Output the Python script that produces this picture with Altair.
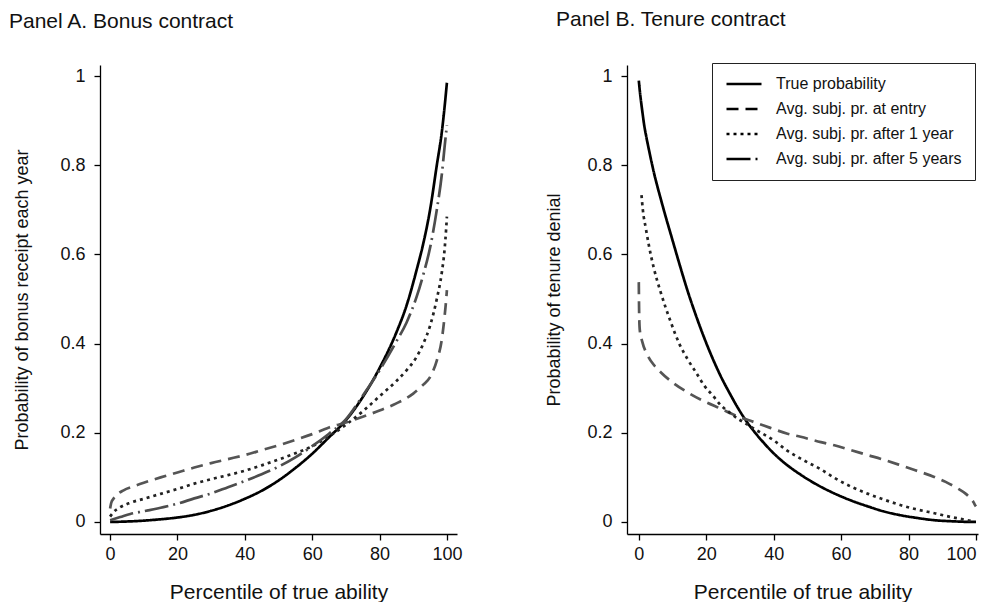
import altair as alt
import pandas as pd

FONT = "Liberation Sans"

SERIES = [
    "True probability",
    "Avg. subj. pr. at entry",
    "Avg. subj. pr. after 1 year",
    "Avg. subj. pr. after 5 years",
]
DASHES = [[1, 0], [12, 7], [3, 4], [24, 5, 2, 5]]
COLORS = ["#000000", "#555555", "#222222", "#4d4d4d"]

# ---- Panel A: bonus contract ----
a_true_x = [0, 5, 10, 15, 20, 25, 30, 35, 40, 45, 50, 55, 60, 65, 70, 75, 80, 85, 88, 91, 93, 95, 97, 98.5, 99.5, 100]
a_true_y = [0.000, 0.001, 0.003, 0.006, 0.010, 0.016, 0.025, 0.037, 0.052, 0.070, 0.093, 0.121, 0.153, 0.190, 0.228,
            0.280, 0.345, 0.425, 0.485, 0.565, 0.625, 0.700, 0.800, 0.875, 0.945, 0.985]

a_entry_x = [0, 0.3, 1, 2, 4, 7, 10, 15, 20, 25, 30, 35, 40, 45, 50, 55, 60, 65, 70, 75, 80, 85, 90, 93, 95, 97,
             98.5, 99.3, 99.8, 100]
a_entry_y = [0.030, 0.042, 0.052, 0.061, 0.071, 0.080, 0.088, 0.100, 0.111, 0.122, 0.132, 0.141, 0.150, 0.161, 0.172,
             0.184, 0.197, 0.212, 0.223, 0.236, 0.250, 0.266, 0.288, 0.308, 0.325, 0.362, 0.41, 0.46, 0.50, 0.52]

a_y1_x = [0, 1, 3, 6, 10, 15, 20, 25, 30, 35, 40, 45, 50, 55, 60, 65, 70, 75, 80, 85, 88, 91, 93, 95, 97, 98.5,
          99.3, 99.8, 100]
a_y1_y = [0.012, 0.022, 0.033, 0.043, 0.052, 0.063, 0.074, 0.086, 0.096, 0.105, 0.115, 0.127, 0.140, 0.154, 0.170,
          0.192, 0.218, 0.248, 0.282, 0.316, 0.340, 0.370, 0.400, 0.440, 0.500, 0.560, 0.610, 0.660, 0.685]

a_y5_x = [0, 3, 6, 10, 15, 20, 25, 30, 35, 40, 45, 50, 55, 60, 65, 70, 75, 80, 85, 88, 91, 93, 95, 97, 98.5, 99.3, 100]
a_y5_y = [0.004, 0.011, 0.018, 0.024, 0.032, 0.041, 0.053, 0.064, 0.078, 0.092, 0.107, 0.124, 0.145, 0.170, 0.198,
          0.230, 0.283, 0.340, 0.405, 0.447, 0.505, 0.555, 0.615, 0.700, 0.780, 0.840, 0.890]

# ---- Panel B: tenure contract ----
b_true_x = [0, 0.4, 0.8, 1.2, 1.6, 2.2, 3, 3.7, 4.5, 5.5, 6.5, 8, 9.5, 12, 14.4, 17, 19.4, 22, 24.3, 27, 29.3, 32,
            34.2, 37, 39.2, 42, 44.1, 48, 53, 58, 63, 67.9, 72.5, 77.7, 82.5, 87.6, 93, 99.5, 100]
b_true_y = [0.990, 0.960, 0.935, 0.912, 0.890, 0.865, 0.835, 0.810, 0.783, 0.753, 0.725, 0.684, 0.645, 0.580,
            0.520, 0.462, 0.413, 0.365, 0.327, 0.288, 0.257, 0.225, 0.203, 0.178, 0.160, 0.140, 0.127, 0.106, 0.083,
            0.064, 0.048, 0.035, 0.024, 0.015, 0.009, 0.004, 0.0015, 0.000, 0.000]

b_entry_x = [0, 0.1, 0.3, 1, 2.6, 4.5, 6.5, 10, 14.4, 19, 24.3, 29, 34.2, 39, 44.1, 48, 54, 58, 63, 67.9, 72, 77.7,
             82, 87.6, 91, 94.6, 97, 98.5, 99.3, 99.8, 100]
b_entry_y = [0.538, 0.470, 0.430, 0.405, 0.374, 0.352, 0.336, 0.313, 0.291, 0.272, 0.254, 0.238, 0.224, 0.211, 0.198,
             0.191, 0.179, 0.172, 0.161, 0.150, 0.141, 0.127, 0.116, 0.101, 0.090, 0.075, 0.063, 0.052, 0.044, 0.037,
             0.035]

b_y1_x = [0.8, 1.2, 2.1, 3, 4.5, 6.5, 9.5, 12, 14.4, 17, 19.4, 22, 24.3, 27, 29.3, 31.5, 34.2, 40, 44, 48, 54, 58,
          63, 68, 72, 78, 82, 88, 92, 97.5, 99.5]
b_y1_y = [0.733, 0.700, 0.658, 0.620, 0.568, 0.515, 0.448, 0.400, 0.366, 0.335, 0.306, 0.283, 0.262, 0.245, 0.232,
          0.222, 0.209, 0.183, 0.160, 0.142, 0.118, 0.099, 0.079, 0.063, 0.052, 0.037, 0.029, 0.019, 0.012, 0.004,
          0.001]

X_TICKS = [0, 20, 40, 60, 80, 100]
Y_TICKS = [0, 0.2, 0.4, 0.6, 0.8, 1]


def frame(series_idx, xs, ys):
    return pd.DataFrame({
        "x": xs,
        "y": ys,
        "series": SERIES[series_idx],
        "col": COLORS[series_idx],
        "order": list(range(len(xs))),
    })


df_a = pd.concat([
    frame(0, a_true_x, a_true_y),
    frame(1, a_entry_x, a_entry_y),
    frame(2, a_y1_x, a_y1_y),
    frame(3, a_y5_x, a_y5_y),
])
df_b = pd.concat([
    frame(0, b_true_x, b_true_y),
    frame(1, b_entry_x, b_entry_y),
    frame(2, b_y1_x, b_y1_y),
])

H = 469


def panel(df, title, ytitle, title_dx, y_title_pad, legend, width, xdomain):
    x = alt.X("x:Q", scale=alt.Scale(domain=xdomain, nice=False, zero=False),
              axis=alt.Axis(values=X_TICKS, title="Percentile of true ability", labelPadding=5,
                            titlePadding=18, titleFontSize=21, labelFlush=5))
    y = alt.Y("y:Q", scale=alt.Scale(domain=[-0.027, 1.025], nice=False, zero=False),
              axis=alt.Axis(values=Y_TICKS, format="~g", title=ytitle, labelPadding=9,
                            titlePadding=y_title_pad, titleFontSize=18))
    dash = alt.StrokeDash("series:N", scale=alt.Scale(domain=SERIES, range=DASHES), legend=legend)
    return alt.Chart(df, width=width, height=H, title=alt.TitleParams(
        title, anchor="start", frame="bounds", fontSize=21, fontWeight="normal", font=FONT,
        color="#111111", offset=33, dx=title_dx)).mark_line(
        strokeWidth=2.7, interpolate="monotone", strokeCap="butt").encode(
        x=x, y=y, strokeDash=dash,
        color=alt.Color("col:N", scale=None),
        order="order:Q",
    )


legend_b = alt.Legend(
    title=None, orient="none", legendX=85, legendY=-2, symbolType="stroke", symbolSize=1225,
    symbolStrokeWidth=2.6, symbolStrokeColor="black", labelFontSize=16, labelFont=FONT,
    labelColor="#111111", strokeColor="#222222", fillColor="white", padding=13, rowPadding=9,
    clipHeight=16, labelOffset=13, cornerRadius=0, labelLimit=400,
)

chart_a = panel(df_a, "Panel A. Bonus contract", "Probability of bonus receipt each year", -5, 28, None,
                357, [-3, 103])
chart_b = panel(df_b, "Panel B. Tenure contract", "Probability of tenure denial", 10, 23, legend_b,
                351, [-3.5, 100.6])

chart = alt.hconcat(chart_a, chart_b, spacing=83).resolve_scale(
    strokeDash="independent"
).properties(
    padding={"left": 0, "top": 0, "right": 0, "bottom": 0}
).configure_view(stroke=None).configure_axis(
    grid=False, domainColor="black", domainWidth=1.3, tickColor="black", tickWidth=1.3, tickSize=6,
    labelFontSize=18, labelFont=FONT, titleFont=FONT, labelColor="#111111", titleColor="#111111",
    titleFontWeight="normal",
)

chart.save("out.html", embed_options={"renderer": "svg", "actions": False})
